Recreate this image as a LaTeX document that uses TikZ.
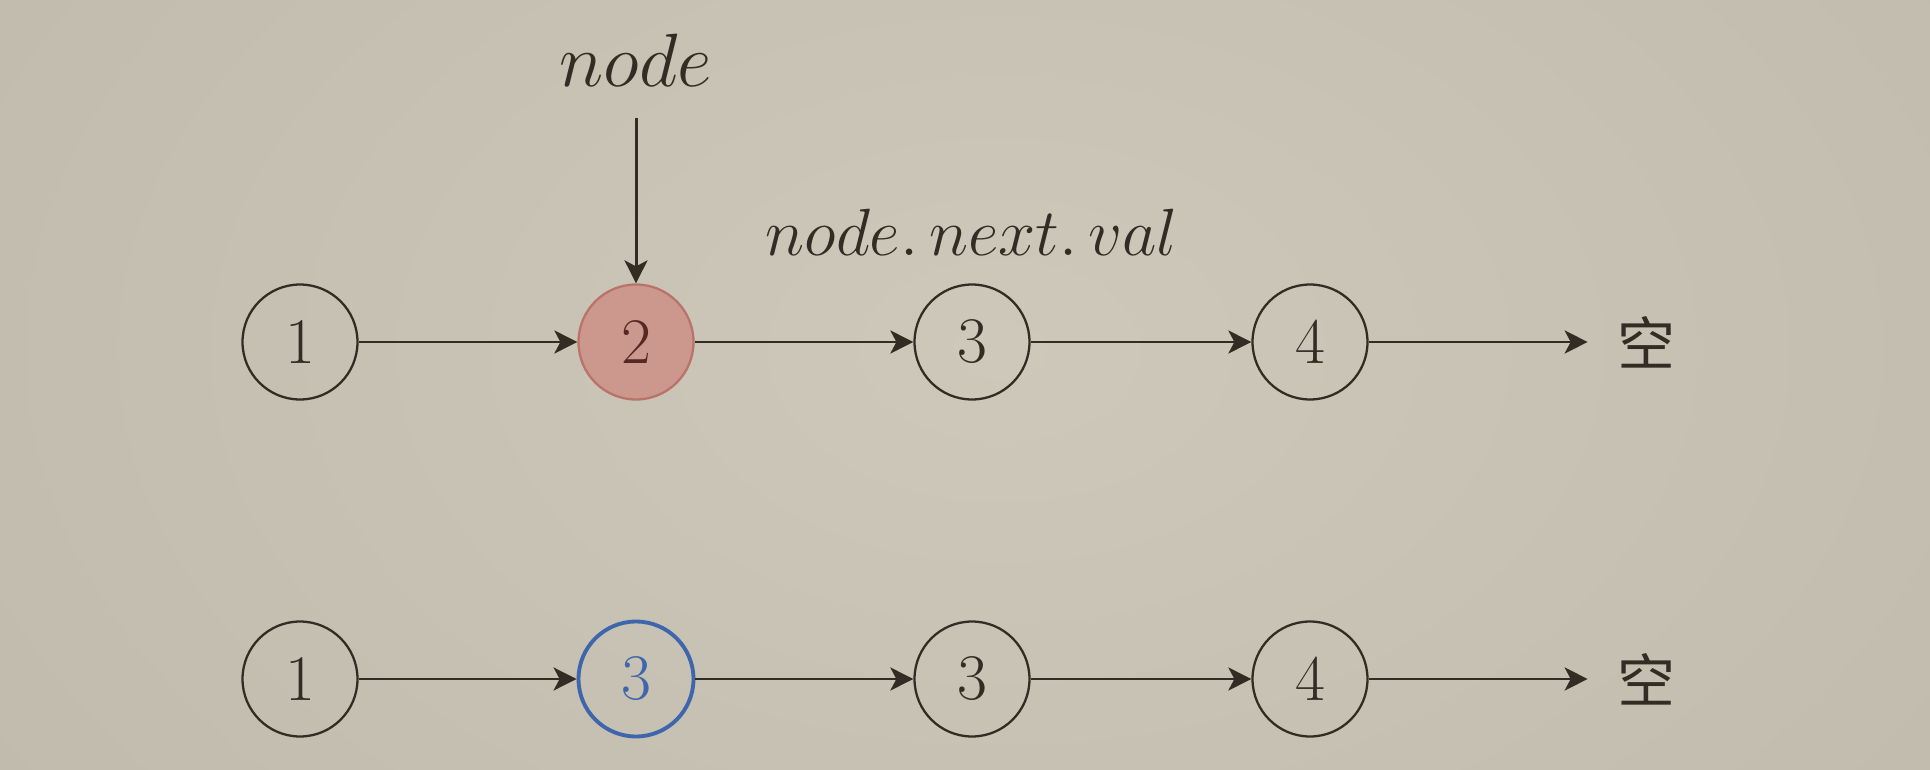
\RequirePackage{fix-cm}
\documentclass[tikz,border=0pt]{standalone}
\usepackage{fontspec}
\newfontfamily\cjk{Noto Sans CJK SC}
\usetikzlibrary{arrows.meta}
\definecolor{bgc}{RGB}{206,200,186}
\definecolor{bgd}{RGB}{192,186,172}
\definecolor{ink}{RGB}{50,45,36}
\definecolor{pinkfill}{RGB}{204,152,142}
\definecolor{pinkline}{RGB}{185,115,105}
\definecolor{pinktext}{RGB}{85,40,35}
\definecolor{blueline}{RGB}{62,102,172}
\tikzset{
  lnode/.style={circle, draw=ink, line width=1.3pt, minimum size=2.3cm, inner sep=0pt,
    text=ink, font=\fontsize{37}{40}\selectfont},
  hinode/.style={lnode, draw=pinkline, fill=pinkfill, text=pinktext},
  newnode/.style={lnode, draw=blueline, line width=2.2pt, text=blueline},
  link/.style={draw=ink, line width=1.7pt, -{Stealth[length=0.46cm,width=0.46cm,inset=0.12cm]}},
  nulltext/.style={inner sep=0pt, text=ink, font=\cjk\fontsize{33}{36}\selectfont},
  lbl/.style={inner sep=0pt, text=ink}
}
\begin{document}
\begin{tikzpicture}[x=0.02cm,y=-0.02cm]
\useasboundingbox (0,0) rectangle (1930,770);
\fill[bgd] (0,0) rectangle (1930,770);
\shade[inner color=bgc, outer color=bgd] (-300,-500) rectangle (2300,1200);
% top row
\node[lnode]  (a1) at (300,342) {1};
\node[hinode] (a2) at (636,342) {2};
\node[lnode]  (a3) at (972,342) {3};
\node[lnode]  (a4) at (1310,342) {4};
\node[nulltext] (anull) at (1646,342) {空};
\draw[link] (a1) -- (a2);
\draw[link] (a2) -- (a3);
\draw[link] (a3) -- (a4);
\draw[link, shorten >=0.58cm] (a4) -- (anull);
\node[lbl, font=\fontsize{43}{46}\selectfont] (nodelbl) at (636,60) {$node$};
\coordinate (ptr) at (636,118);
\draw[link] (ptr) -- (a2);
\node[lbl, font=\fontsize{38}{42}\selectfont] (nextlbl) at (972,232) {$node.\,next.\,val$};
% bottom row
\node[lnode]   (b1) at (300,679) {1};
\node[newnode] (b2) at (636,679) {3};
\node[lnode]   (b3) at (972,679) {3};
\node[lnode]   (b4) at (1310,679) {4};
\node[nulltext] (bnull) at (1646,679) {空};
\draw[link] (b1) -- (b2);
\draw[link] (b2) -- (b3);
\draw[link] (b3) -- (b4);
\draw[link, shorten >=0.58cm] (b4) -- (bnull);
\end{tikzpicture}
\end{document}
